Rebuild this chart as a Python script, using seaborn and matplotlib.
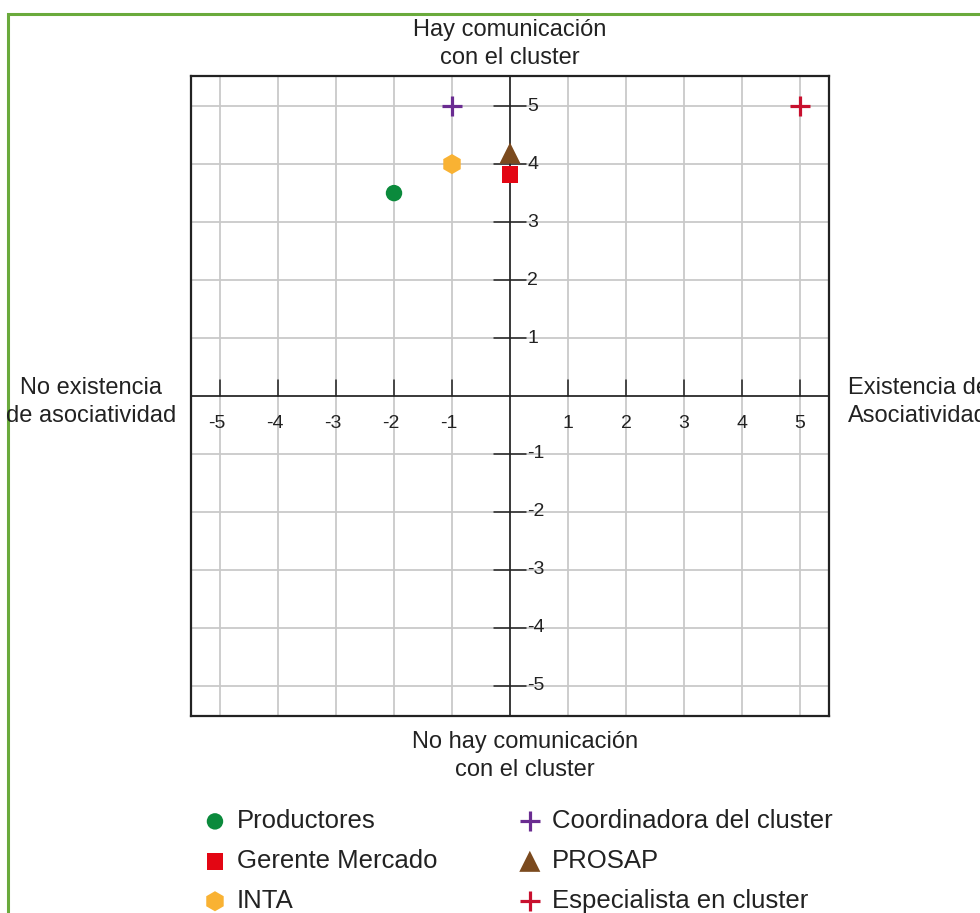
import matplotlib
matplotlib.use("Agg")
import matplotlib.pyplot as plt
from matplotlib.patches import Rectangle
import seaborn as sns
import pandas as pd

# ---- data ----
actors = ["Productores", "Gerente Mercado", "INTA",
          "Coordinadora del cluster", "PROSAP", "Especialista en cluster"]
asociatividad = [-2, 0, -1, -1, 0, 5]
comunicacion = [3.5, 3.82, 4.0, 5.0, 4.19, 5.0]
colors = ["#0b8a3c", "#e30613", "#f9b233", "#6a2c91", "#7b4a1e", "#c8102e"]
markers = ["o", "s", "h", "+", "^", "+"]
sizes = [140, 140, 210, 210, 230, 210]
ticks = [-5, -4, -3, -2, -1, 1, 2, 3, 4, 5]
grid_vals = [-5, -4, -3, -2, -1, 0, 1, 2, 3, 4, 5]

df = pd.DataFrame({"actor": actors, "x": asociatividad, "y": comunicacion})

sns.set_style("whitegrid")
plt.rcParams["font.family"] = ["Liberation Sans", "DejaVu Sans"]

fig = plt.figure(figsize=(9.8, 9.13), dpi=100)
ax = fig.add_axes([191/980, 1-716/913, 638/980, 640/913])
ax.set_xlim(-5.5, 5.5)
ax.set_ylim(-5.52, 5.52)
ax.set_xticks(grid_vals)
ax.set_yticks(grid_vals)
ax.set_xticklabels([])
ax.set_yticklabels([])
ax.tick_params(length=0)
ax.grid(True, color="#c9c9c9", linewidth=1.3)
for s in ax.spines.values():
    s.set_visible(True)
    s.set_color("#222222")
    s.set_linewidth(1.6)

# central axes
ax.axhline(0, color="#222222", lw=1.2, zorder=2)
ax.axvline(0, color="#222222", lw=1.2, zorder=2)
for t in ticks:
    ax.plot([t, t], [0, 0.28], color="#222222", lw=1.1, zorder=2)
    ax.text(t - (0.06 if t < 0 else 0), -0.48, str(t), ha="center", va="center",
            fontsize=14, color="#222222")
    ax.plot([-0.28, 0.28], [t, t], color="#222222", lw=1.1, zorder=2)
    ax.text(0.30, t, str(t), ha="left", va="center", fontsize=14, color="#222222")

for i, a in enumerate(actors):
    sub = df[df["actor"] == a]
    kw = dict(color=colors[i], marker=markers[i], s=sizes[i], label=a,
              legend=False, zorder=5, ax=ax)
    if markers[i] == "+":
        kw["linewidth"] = 2.3
    else:
        kw["edgecolor"] = "none"
    sns.scatterplot(data=sub, x="x", y="y", **kw)
ax.set_xlabel("")
ax.set_ylabel("")

fs = 17
ls = 1.38
fig.text(510/980, 1-44/913, "Hay comunicación\ncon el cluster", ha="center", va="center",
         fontsize=fs, linespacing=ls, color="#222222")
fig.text(525/980, 1-756/913, "No hay comunicación\ncon el cluster", ha="center", va="center",
         fontsize=fs, linespacing=ls, color="#222222")
fig.text(91/980, 1-402/913, "No existencia\nde asociatividad", ha="center", va="center",
         fontsize=fs, linespacing=ls, color="#222222")
fig.text(918/980, 1-402/913, "Existencia de\nAsociatividad", ha="center", va="center",
         fontsize=fs, linespacing=ls, color="#222222")

leg = ax.legend(loc="upper left", bbox_to_anchor=(179/980, 1-786/913),
                bbox_transform=fig.transFigure, ncol=2, frameon=False,
                fontsize=18.5, handletextpad=0.35, columnspacing=3.1,
                labelspacing=0.62, handlelength=1.0, markerscale=1.0)
for t in leg.get_texts():
    t.set_color("#222222")

fig.patches.append(Rectangle((8/980, -0.2), 1.5, 0.2 + 1 - 14/913, transform=fig.transFigure,
                             fill=False, edgecolor="#6aaa3c", linewidth=2.2))

fig.savefig("out.png", dpi=100)
